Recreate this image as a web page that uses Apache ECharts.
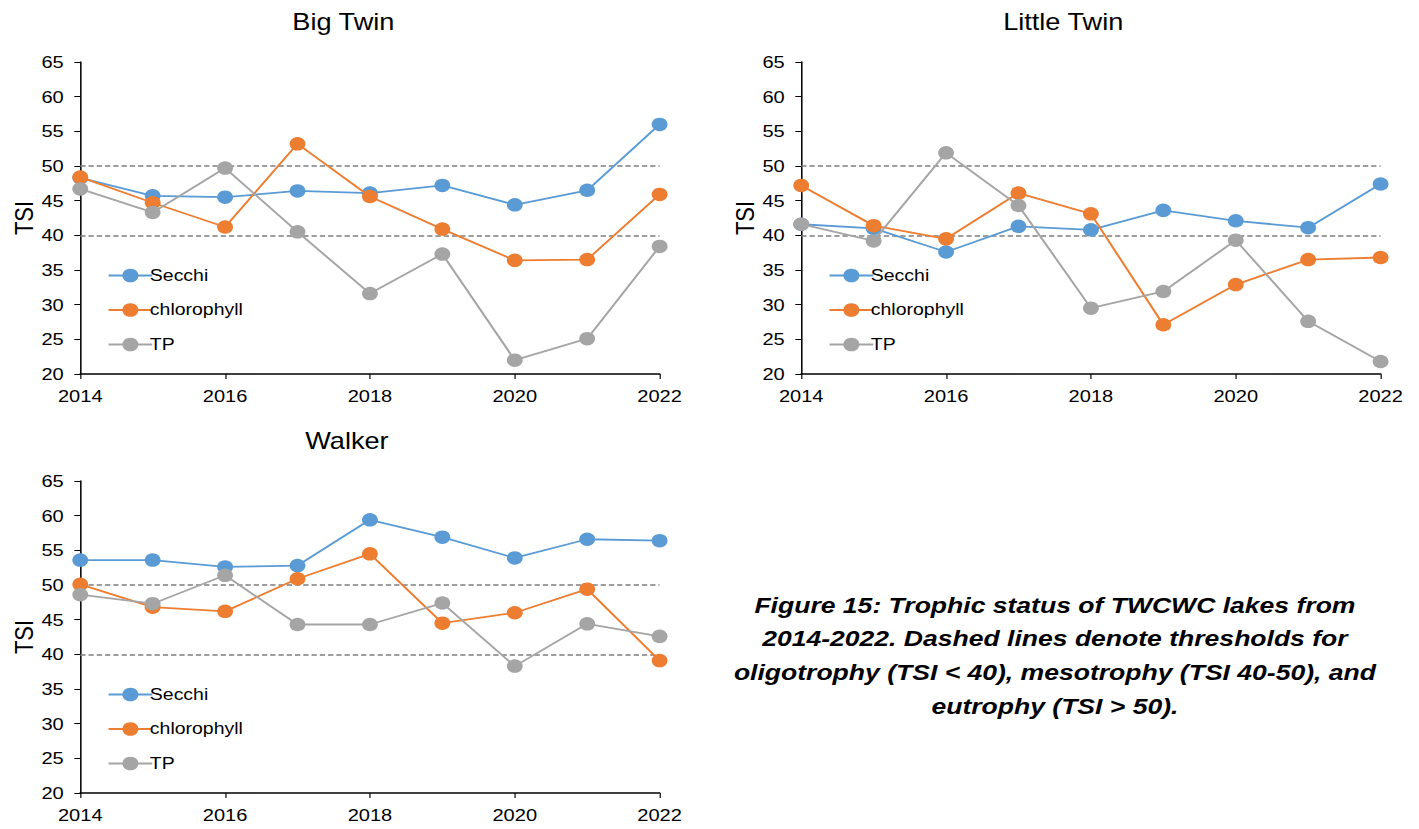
<!DOCTYPE html>
<html>
<head>
<meta charset="utf-8">
<script src="https://cdn.jsdelivr.net/npm/echarts@6/dist/echarts.min.js"></script>
<style>
  html, body { margin: 0; padding: 0; background: #fff; overflow: hidden; }
  /* The figure is laid out on a narrower canvas and stretched horizontally */
  #chart { width: 1203px; height: 829px; transform: scaleX(1.18); transform-origin: 0 0; }
</style>
</head>
<body>
<div id="chart"></div>
<script>
// Years sampled for each lake
const years = [2014, 2015, 2016, 2017, 2018, 2019, 2020, 2021, 2022];
const seriesNames = ['Secchi', 'chlorophyll', 'TP'];
const lakeNames = ['Big Twin', 'Little Twin', 'Walker'];

// Trophic State Index per lake and metric
const bigTwinSecchi      = [48.3, 45.7, 45.5, 46.4, 46.1, 47.2, 44.4, 46.5, 56.0];
const bigTwinChlorophyll = [48.4, 44.7, 41.2, 53.2, 45.6, 40.9, 36.4, 36.5, 45.9];
const bigTwinTP          = [46.7, 43.3, 49.7, 40.5, 31.6, 37.3, 22.0, 25.1, 38.4];

const littleTwinSecchi      = [41.6, 41.0, 37.6, 41.3, 40.8, 43.6, 42.1, 41.1, 47.4];
const littleTwinChlorophyll = [47.2, 41.4, 39.5, 46.1, 43.1, 27.1, 32.9, 36.5, 36.8];
const littleTwinTP          = [41.6, 39.2, 51.9, 44.3, 29.5, 31.9, 39.3, 27.6, 21.8];

const walkerSecchi      = [53.6, 53.6, 52.6, 52.8, 59.4, 56.9, 53.9, 56.6, 56.4];
const walkerChlorophyll = [50.1, 46.8, 46.2, 50.9, 54.5, 44.5, 46.0, 49.4, 39.1];
const walkerTP          = [48.6, 47.3, 51.4, 44.3, 44.3, 47.4, 38.3, 44.4, 42.6];

// Trophic thresholds (oligotrophy / eutrophy boundaries)
const thresholds = [40, 50];

const captionLines = [
  'Figure 15: Trophic status of TWCWC lakes from',
  '2014-2022. Dashed lines denote thresholds for',
  'oligotrophy (TSI < 40), mesotrophy (TSI 40-50), and',
  'eutrophy (TSI > 50).'
];

const lakeData = [
  [bigTwinSecchi, bigTwinChlorophyll, bigTwinTP],
  [littleTwinSecchi, littleTwinChlorophyll, littleTwinTP],
  [walkerSecchi, walkerChlorophyll, walkerTP]
];

const colors = ['#5B9BD5', '#ED7D31', '#A5A5A5'];
const FONT = "'Liberation Sans', Arial, sans-serif";

// Panel placement (in the un-stretched coordinate space)
const panels = [
  { left: 68,  top: 62,  width: 491, height: 312, titleX: 291 },
  { left: 679, top: 62,  width: 491, height: 312, titleX: 901 },
  { left: 68,  top: 481, width: 491, height: 312, titleX: 294 }
];

const chart = echarts.init(document.getElementById('chart'), null, { renderer: 'svg' });

const grids = [], xAxes = [], yAxes = [], series = [], legends = [], graphics = [];

panels.forEach((p, i) => {
  grids.push({ left: p.left, top: p.top, width: p.width, height: p.height, containLabel: false });
  xAxes.push({
    type: 'value', gridIndex: i, min: 2014, max: 2022, interval: 2,
    axisLine: { show: true, lineStyle: { color: '#000', width: 1.5 } },
    axisTick: { show: true, length: 5, lineStyle: { color: '#000' } },
    axisLabel: { color: '#000', fontSize: 17, fontFamily: FONT, margin: 14, formatter: v => String(v) },
    splitLine: { show: false }
  });
  yAxes.push({
    type: 'value', gridIndex: i, min: 20, max: 65, interval: 5,
    name: 'TSI', nameLocation: 'middle', nameGap: 36, nameRotate: 90,
    nameTextStyle: { color: '#000', fontSize: 22, fontFamily: FONT },
    axisLine: { show: true, lineStyle: { color: '#000', width: 1.3 } },
    axisTick: { show: true, length: 5, lineStyle: { color: '#000' } },
    axisLabel: { color: '#000', fontSize: 17, fontFamily: FONT, margin: 14 },
    splitLine: { show: false }
  });
  lakeData[i].forEach((vals, k) => {
    const s = {
      name: seriesNames[k], type: 'line', xAxisIndex: i, yAxisIndex: i,
      data: years.map((y, j) => [y, vals[j]]),
      symbol: 'circle', symbolSize: 13.5,
      itemStyle: { color: colors[k] },
      lineStyle: { color: colors[k], width: 1.8 },
      z: 3 + k,
      animation: false
    };
    if (k === 0) {
      s.markLine = {
        silent: true, symbol: 'none', label: { show: false },
        lineStyle: { color: '#7F7F7F', type: [4.5, 2.5], width: 1.5 },
        data: thresholds.map(t => ({ yAxis: t })),
        z: 1
      };
    }
    series.push(s);
  });
  legends.push({
    data: seriesNames, orient: 'vertical',
    left: p.left + 18, top: p.top + 200,
    itemWidth: 37, itemHeight: 17, itemGap: 17.5,
    textStyle: { color: '#000', fontSize: 16.5, fontFamily: FONT, padding: [0, 0, 0, -7] },
    selectedMode: false
  });
  graphics.push({
    type: 'text',
    x: p.titleX, y: p.top - 40,
    style: { text: lakeNames[i], fill: '#000', font: '23px ' + FONT, textAlign: 'center', textVerticalAlign: 'middle' }
  });
});

captionLines.forEach((line, i) => {
  graphics.push({
    type: 'text', x: 894, y: 605 + i * 33.7,
    style: { text: line, fill: '#000', font: 'italic bold 22.5px ' + FONT, textAlign: 'center', textVerticalAlign: 'middle' }
  });
});

chart.setOption({
  animation: false,
  backgroundColor: '#fff',
  grid: grids,
  xAxis: xAxes,
  yAxis: yAxes,
  legend: legends,
  series: series,
  graphic: graphics
});
</script>
</body>
</html>
